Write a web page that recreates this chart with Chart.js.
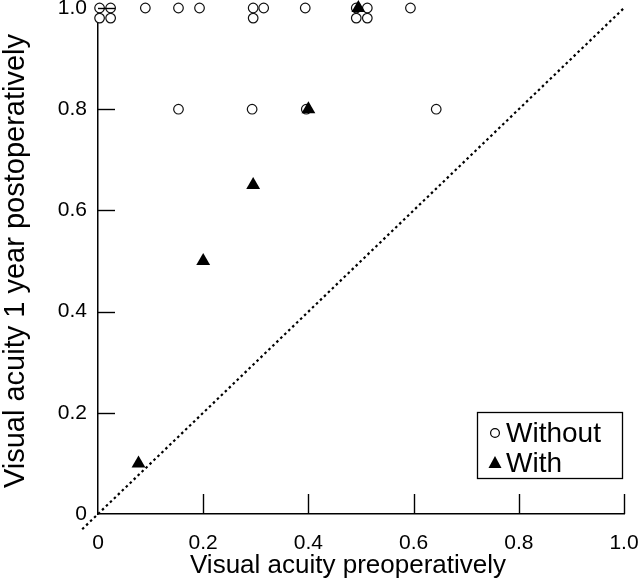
<!DOCTYPE html>
<html>
<head>
<meta charset="utf-8">
<script src="https://cdn.jsdelivr.net/npm/chart.js@4/dist/chart.umd.min.js"></script>
<style>
  html, body { margin: 0; padding: 0; background: #fff; }
  #wrap { width: 640px; height: 581px; }
</style>
</head>
<body>
<div id="wrap"><canvas id="acuityChart" width="640" height="581"></canvas></div>
<script>
// Visual acuity before surgery vs one year after
const withoutPre  = [0.003, 0.024, 0.003, 0.024, 0.09, 0.153, 0.193, 0.295, 0.315, 0.295, 0.394, 0.491, 0.512, 0.491, 0.512, 0.594, 0.153, 0.293, 0.396, 0.643];
const withoutPost = [1.0, 1.0, 0.98, 0.98, 1.0, 1.0, 1.0, 1.0, 1.0, 0.98, 1.0, 1.0, 1.0, 0.98, 0.98, 1.0, 0.8, 0.8, 0.8, 0.8];
const withPre  = [0.077, 0.2, 0.295, 0.4, 0.495];
const withPost = [0.1, 0.5, 0.65, 0.8, 1.0];
const tickValues = [0, 0.2, 0.4, 0.6, 0.8, 1.0];
const diagonal = [-0.03, 1.0];
const legendLabels = ["Without", "With"];
const xTitle = "Visual acuity preoperatively";
const yTitle = "Visual acuity 1 year postoperatively";

const font = "'Liberation Sans', Arial, Helvetica, sans-serif";

function toPoints(xs, ys) {
  return xs.map((x, i) => ({ x: x, y: ys[i] }));
}

function tickLabel(v) {
  return v === 0 ? "0" : v.toFixed(1);
}

// tick marks pointing into the plot, plus the axis titles
const innerTicks = {
  id: "innerTicks",
  afterDraw(chart) {
    const c = chart.ctx;
    const sx = chart.scales.x, sy = chart.scales.y;
    const area = chart.chartArea;
    c.save();
    c.strokeStyle = "#000";
    c.lineWidth = 1.4;
    tickValues.forEach((v) => {
      if (v === 0) return;
      const px = Math.round(sx.getPixelForValue(v)) + 0.5;
      c.beginPath();
      c.moveTo(px, area.bottom);
      c.lineTo(px, area.bottom - 20);
      c.stroke();
      const py = Math.round(sy.getPixelForValue(v)) + 0.5;
      c.beginPath();
      c.moveTo(area.left, py);
      c.lineTo(area.left + 17, py);
      c.stroke();
    });

    c.fillStyle = "#000";
    c.textAlign = "center";
    c.textBaseline = "alphabetic";
    c.font = "26px " + font;
    c.fillText(xTitle, 348, 573);
    c.translate(24, 261);
    c.rotate(-Math.PI / 2);
    c.font = "29px " + font;
    c.fillText(yTitle, 0, 0);
    c.restore();
  }
};

// boxed legend in the lower right corner
const boxLegend = {
  id: "boxLegend",
  afterDraw(chart) {
    const c = chart.ctx;
    const bx = 477, by = 412, bw = 145, bh = 66;
    c.save();
    c.fillStyle = "#fff";
    c.fillRect(bx, by, bw, bh);
    c.strokeStyle = "#000";
    c.lineWidth = 1.3;
    c.strokeRect(bx + 0.5, by + 0.5, bw, bh);

    // circle marker
    c.beginPath();
    c.arc(495, 433, 4.4, 0, Math.PI * 2);
    c.lineWidth = 1.2;
    c.stroke();
    // triangle marker
    c.beginPath();
    c.moveTo(495, 456);
    c.lineTo(501.5, 468);
    c.lineTo(488.5, 468);
    c.closePath();
    c.fillStyle = "#000";
    c.fill();

    c.font = "28px " + font;
    c.textBaseline = "alphabetic";
    c.textAlign = "left";
    c.fillText(legendLabels[0], 506, 442);
    c.fillText(legendLabels[1], 506, 472);
    c.restore();
  }
};

const ctx = document.getElementById("acuityChart").getContext("2d");
new Chart(ctx, {
  type: "scatter",
  data: {
    datasets: [
      {
        label: legendLabels[1],
        data: toPoints(withPre, withPost),
        pointStyle: "triangle",
        pointRadius: 8,
        backgroundColor: "#000",
        borderColor: "#000",
        borderWidth: 0,
        clip: false,
        order: 0,
      },
      {
        label: legendLabels[0],
        data: toPoints(withoutPre, withoutPost),
        pointStyle: "circle",
        pointRadius: 4.8,
        backgroundColor: "#fff",
        borderColor: "#111",
        borderWidth: 1.2,
        clip: false,
        order: 1,
      },
      {
        type: "line",
        label: "y = x",
        data: toPoints(diagonal, diagonal),
        borderColor: "#000",
        borderWidth: 2.2,
        borderDash: [2.5, 3],
        pointRadius: 0,
        fill: false,
        clip: false,
        order: 2,
      },
    ],
  },
  options: {
    responsive: false,
    animation: false,
    devicePixelRatio: 1,
    layout: { padding: { top: 7, right: 16, left: 0, bottom: 0 } },
    plugins: {
      legend: { display: false },
      tooltip: { enabled: false },
    },
    scales: {
      x: {
        type: "linear",
        min: 0,
        max: 1,
        afterBuildTicks: (s) => { s.ticks = tickValues.map((v) => ({ value: v })); },
        afterFit: (s) => { s.height = 67; s.paddingLeft = 0; s.paddingRight = 0; },
        grid: { display: false, drawTicks: false },
        border: { display: true, color: "#000", width: 1.5 },
        ticks: {
          color: "#000",
          padding: 17,
          maxRotation: 0,
          font: { family: font, size: 21 },
          callback: tickLabel,
        },
      },
      y: {
        type: "linear",
        min: 0,
        max: 1,
        afterBuildTicks: (s) => { s.ticks = tickValues.map((v) => ({ value: v })); },
        afterFit: (s) => { s.width = 98; s.paddingTop = 0; s.paddingBottom = 0; },
        grid: { display: false, drawTicks: false },
        border: { display: true, color: "#000", width: 1.5 },
        ticks: {
          color: "#000",
          padding: 11,
          font: { family: font, size: 21 },
          callback: tickLabel,
        },
      },
    },
  },
  plugins: [innerTicks, boxLegend],
});
</script>
</body>
</html>
